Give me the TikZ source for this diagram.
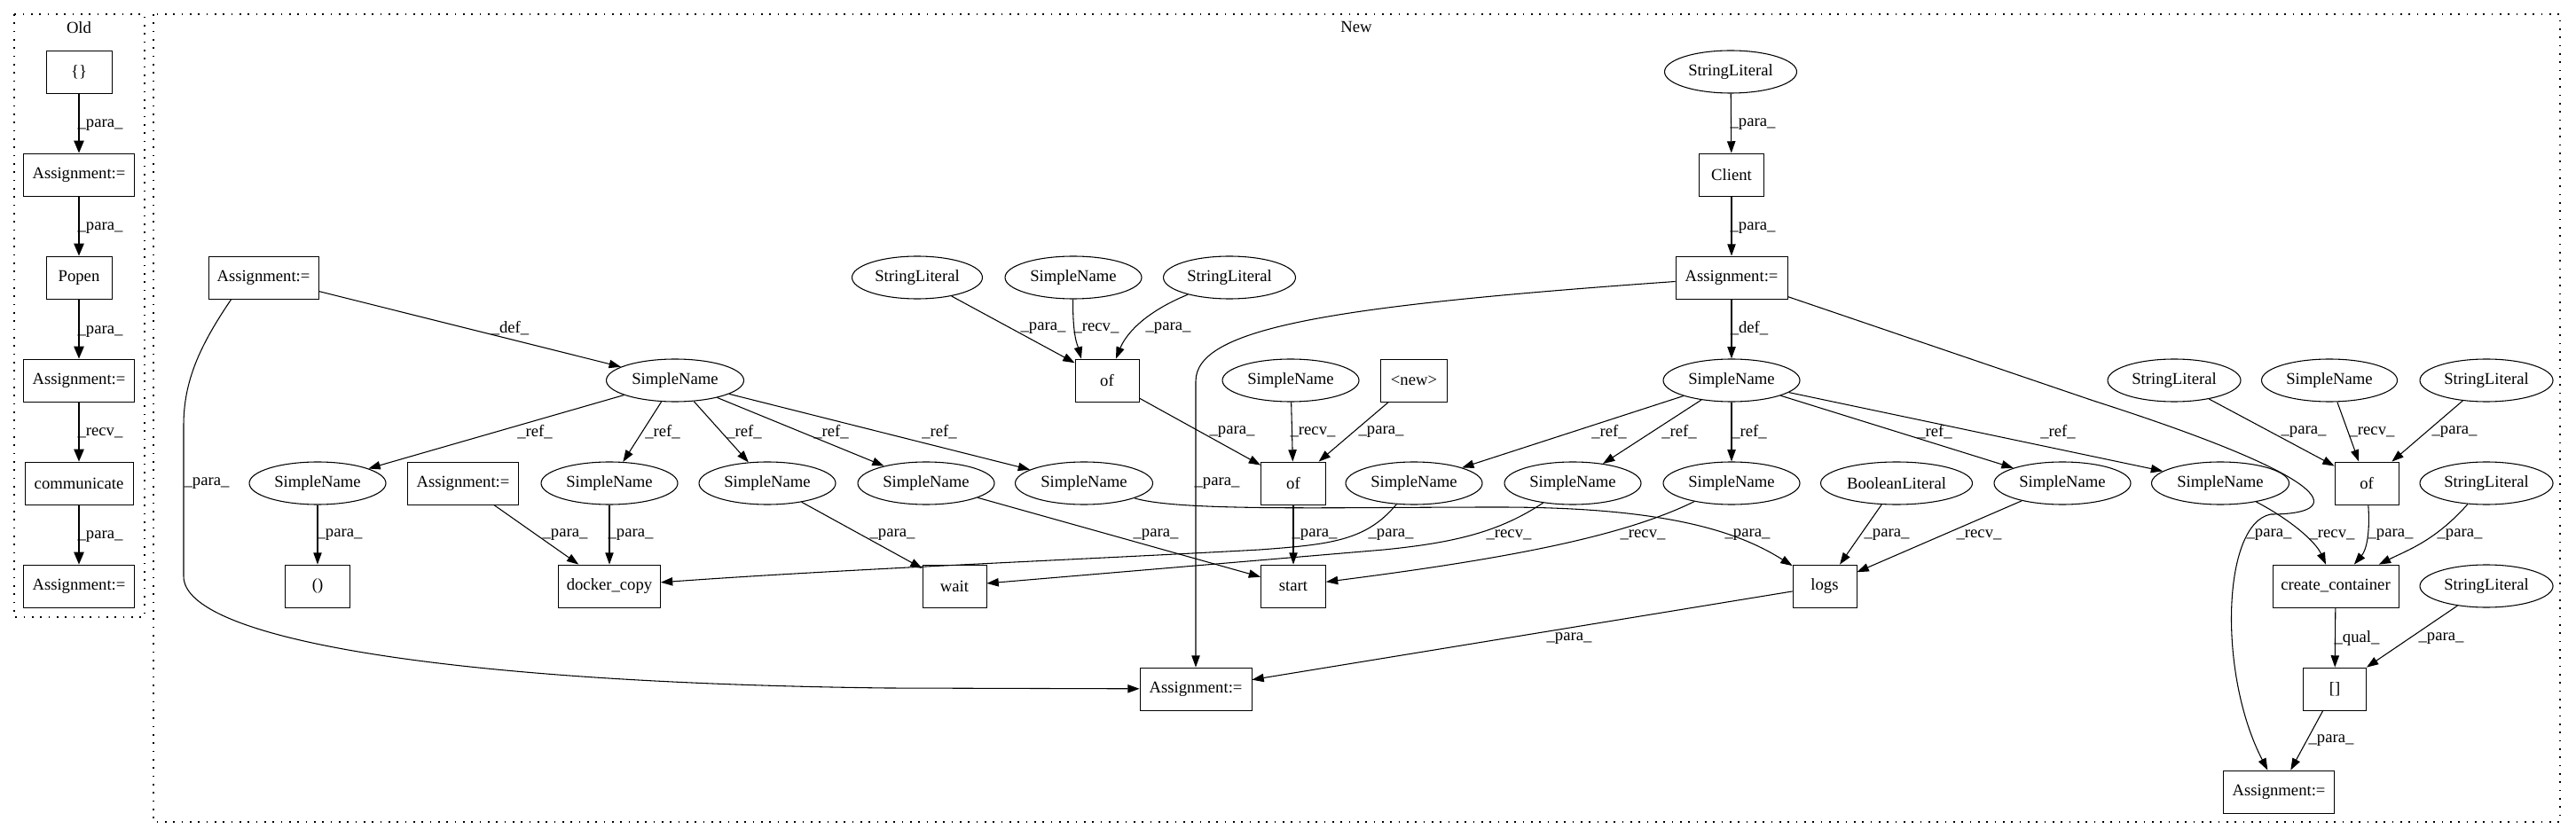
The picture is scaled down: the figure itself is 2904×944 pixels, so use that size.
\documentclass[tikz,border=0pt]{standalone}
\usepackage{fontspec}
\setmainfont{Liberation Serif}
\usetikzlibrary{arrows.meta,shapes.geometric}
\begin{document}
\begin{tikzpicture}[x=0.75pt,y=-0.75pt,
  every node/.style={font=\fontsize{14pt}{16pt}\selectfont},
  bx/.style={draw, rectangle, line width=0.6pt, minimum height=36pt, inner sep=0pt, minimum width=#1*0.75pt},
  el/.style={draw, ellipse, line width=0.8pt, minimum height=36pt, inner sep=0pt, minimum width=#1*0.75pt},
  edg/.style={draw, line width=0.8pt, -{Triangle[length=10pt,width=7pt]}},
  edgo/.style={draw, line width=1.3pt, -{Triangle[length=10.5pt,width=8.5pt]}},
  lbl/.style={inner sep=0pt},
  clu/.style={draw, line width=1pt, dash pattern=on 1.2pt off 5.8pt}]
\useasboundingbox (0,0) rectangle (2904,944);
% clusters
\draw[clu] (16,16) rectangle (163,696);
\node[lbl] (oldlab) at (89,31) {Old};
\draw[clu] (173,16) rectangle (2886,927);
\node[lbl] (newlab) at (1529,30) {New};
% Old nodes
\node[bx=74] (o1) at (89,81) {\{\}};
\node[bx=125] (o2) at (89,197) {Assignment:=};
\node[bx=74] (o3) at (89,313) {Popen};
\node[bx=125] (o4) at (89,429) {Assignment:=};
\node[bx=122] (o5) at (89,545) {communicate};
\node[bx=125] (o6) at (89,661) {Assignment:=};
% New nodes
\node[el=149] (sl0) at (1951,81) {StringLiteral};
\node[bx=73] (client) at (1952,197) {Client};
\node[bx=126] (aR) at (1952,313) {Assignment:=};
\node[el=154] (hubR) at (1952,429) {SimpleName};
\node[bx=124] (aL) at (297,313) {Assignment:=};
\node[el=155] (hubL) at (761,429) {SimpleName};
\node[el=147] (slA) at (1034,313) {StringLiteral};
\node[el=154] (snA) at (1210,313) {SimpleName};
\node[el=149] (slB) at (1386,313) {StringLiteral};
\node[bx=72] (of1) at (1248,429) {of};
\node[el=154] (snB) at (1455,429) {SimpleName};
\node[bx=75] (new) at (1594,429) {<new>};
\node[el=150] (slC) at (2451,429) {StringLiteral};
\node[el=153] (snC) at (2626,429) {SimpleName};
\node[el=150] (slD) at (2803,429) {StringLiteral};
\node[el=154] (sn1) at (358,545) {SimpleName};
\node[bx=125] (aS) at (522,545) {Assignment:=};
\node[el=154] (sn2) at (687,545) {SimpleName};
\node[el=154] (sn3) at (865,545) {SimpleName};
\node[el=154] (sn4) at (1044,545) {SimpleName};
\node[el=155] (sn5) at (1222,545) {SimpleName};
\node[bx=73] (of2) at (1458,545) {of};
\node[el=154] (sn6) at (1594,545) {SimpleName};
\node[el=154] (sn7) at (1773,545) {SimpleName};
\node[el=154] (sn8) at (1952,545) {SimpleName};
\node[el=171] (bool) at (2138,545) {BooleanLiteral};
\node[el=154] (sn9) at (2325,545) {SimpleName};
\node[el=155] (sn10) at (2503,545) {SimpleName};
\node[bx=72] (of3) at (2668,545) {of};
\node[el=150] (slE) at (2803,545) {StringLiteral};
\node[bx=73] (paren) at (358,661) {()};
\node[bx=115] (docker) at (687,661) {docker\_copy};
\node[bx=72] (wait) at (1076,661) {wait};
\node[bx=73] (start) at (1458,661) {start};
\node[bx=72] (logs) at (2057,661) {logs};
\node[bx=142] (cc) at (2633,661) {create\_container};
\node[el=150] (slF) at (2803,661) {StringLiteral};
\node[bx=71] (brk) at (2632,777) {[]};
\node[bx=126] (aM) at (1348,777) {Assignment:=};
\node[bx=125] (aB) at (2569,893) {Assignment:=};
% Old edges
\draw[edgo] (o1) -- (o2) node[lbl] at (113,141) {\_para\_};
\draw[edgo] (o2) -- (o3) node[lbl] at (113,257) {\_para\_};
\draw[edgo] (o3) -- (o4) node[lbl] at (113,374) {\_para\_};
\draw[edgo] (o4) -- (o5) node[lbl] at (113,488) {\_recv\_};
\draw[edgo] (o5) -- (o6) node[lbl] at (113,605) {\_para\_};
% New edges
\draw[edg] (sl0) -- (client) node[lbl] at (1976,140) {\_para\_};
\draw[edg] (client) -- (aR) node[lbl] at (1976,257) {\_para\_};
\draw[edg] (aR) -- (hubR) node[lbl] at (1972,370) {\_def\_};
\draw[edg] (aR) .. controls (1500,345) and (1348,370) .. (1348,430) -- (aM) node[lbl] at (1372,545) {\_para\_};
\draw[edg] (aR) -- (2360,452) .. controls (2650,545) and (2640,580) .. (2560,580) .. controls (2505,590) and (2500,760) .. (aB) node[lbl] at (2558,603) {\_para\_};
\draw[edg] (hubR) -- (sn6) node[lbl] at (1814,487) {\_ref\_};
\draw[edg] (hubR) -- (sn7) node[lbl] at (1893,487) {\_ref\_};
\draw[edg] (hubR) -- (sn8) node[lbl] at (1972,487) {\_ref\_};
\draw[edg] (hubR) -- (sn9) node[lbl] at (2181,487) {\_ref\_};
\draw[edg] (hubR) -- (sn10) node[lbl] at (2320,487) {\_ref\_};
\draw[edg] (aL) -- (hubL) node[lbl] at (575,370) {\_def\_};
\draw[edg] (aL.214) .. controls (225,390) and (207,430) .. (207,480) -- (207,650) .. controls (207,720) and (500,770) .. (1000,776) -- (aM) node[lbl] at (233,545) {\_para\_};
\draw[edg] (hubL) -- (sn1) node[lbl] at (603,487) {\_ref\_};
\draw[edg] (hubL) -- (sn2) node[lbl] at (747,487) {\_ref\_};
\draw[edg] (hubL) -- (sn3) node[lbl] at (839,487) {\_ref\_};
\draw[edg] (hubL) -- (sn4) node[lbl] at (937,487) {\_ref\_};
\draw[edg] (hubL) -- (sn5) node[lbl] at (1059,487) {\_ref\_};
\draw[edg] (sn1) -- (paren) node[lbl] at (383,603) {\_para\_};
\draw[edg] (aS) -- (docker) node[lbl] at (637,603) {\_para\_};
\draw[edg] (sn2) -- (docker) node[lbl] at (711,603) {\_para\_};
\draw[edg] (sn3) -- (wait) node[lbl] at (1006,603) {\_para\_};
\draw[edg] (sn4) -- (start) node[lbl] at (1303,603) {\_para\_};
\draw[edg] (sn5) .. controls (1330,577) and (1500,572) .. (1690,572) .. controls (1880,572) and (1960,600) .. (logs) node[lbl] at (1970,603) {\_para\_};
\draw[edg] (slA) -- (of1) node[lbl] at (1176,370) {\_para\_};
\draw[edg] (snA) .. controls (1209,380) and (1215,390) .. (of1.140) node[lbl] at (1236,370) {\_recv\_};
\draw[edg] (slB) .. controls (1286,354) and (1268,380) .. (of1) node[lbl] at (1317,370) {\_para\_};
\draw[edg] (of1) -- (of2) node[lbl] at (1389,487) {\_para\_};
\draw[edg] (snB) -- (of2) node[lbl] at (1480,487) {\_recv\_};
\draw[edg] (new) -- (of2) node[lbl] at (1557,487) {\_para\_};
\draw[edg] (of2) -- (start) node[lbl] at (1482,603) {\_para\_};
\draw[edg] (sn6) .. controls (1540,610) and (1500,614) .. (1420,620) .. controls (1200,632) and (950,642) .. (docker) node[lbl] at (1568,603) {\_para\_};
\draw[edg] (sn7) .. controls (1690,600) and (1640,612) .. (1560,620) -- (wait) node[lbl] at (1701,603) {\_recv\_};
\draw[edg] (sn8) .. controls (1830,605) and (1700,630) .. (start) node[lbl] at (1852,603) {\_recv\_};
\draw[edg] (bool) -- (logs) node[lbl] at (2127,603) {\_para\_};
\draw[edg] (sn9) -- (logs) node[lbl] at (2231,603) {\_recv\_};
\draw[edg] (logs) -- (aM) node[lbl] at (1769,720) {\_para\_};
\draw[edg] (slC) -- (of3) node[lbl] at (2597,487) {\_para\_};
\draw[edg] (snC) -- (of3) node[lbl] at (2674,487) {\_recv\_};
\draw[edg] (slD) -- (of3) node[lbl] at (2767,487) {\_para\_};
\draw[edg] (sn10) .. controls (2580,585) and (2610,610) .. (cc) node[lbl] at (2629,603) {\_recv\_};
\draw[edg] (of3) .. controls (2672,600) and (2668,620) .. (cc) node[lbl] at (2695,603) {\_para\_};
\draw[edg] (slE) .. controls (2745,610) and (2715,620) .. (cc) node[lbl] at (2773,603) {\_para\_};
\draw[edg] (cc) -- (brk) node[lbl] at (2657,720) {\_qual\_};
\draw[edg] (slF) -- (brk) node[lbl] at (2752,720) {\_para\_};
\draw[edg] (brk) -- (aB) node[lbl] at (2628,835) {\_para\_};
\end{tikzpicture}
\end{document}
